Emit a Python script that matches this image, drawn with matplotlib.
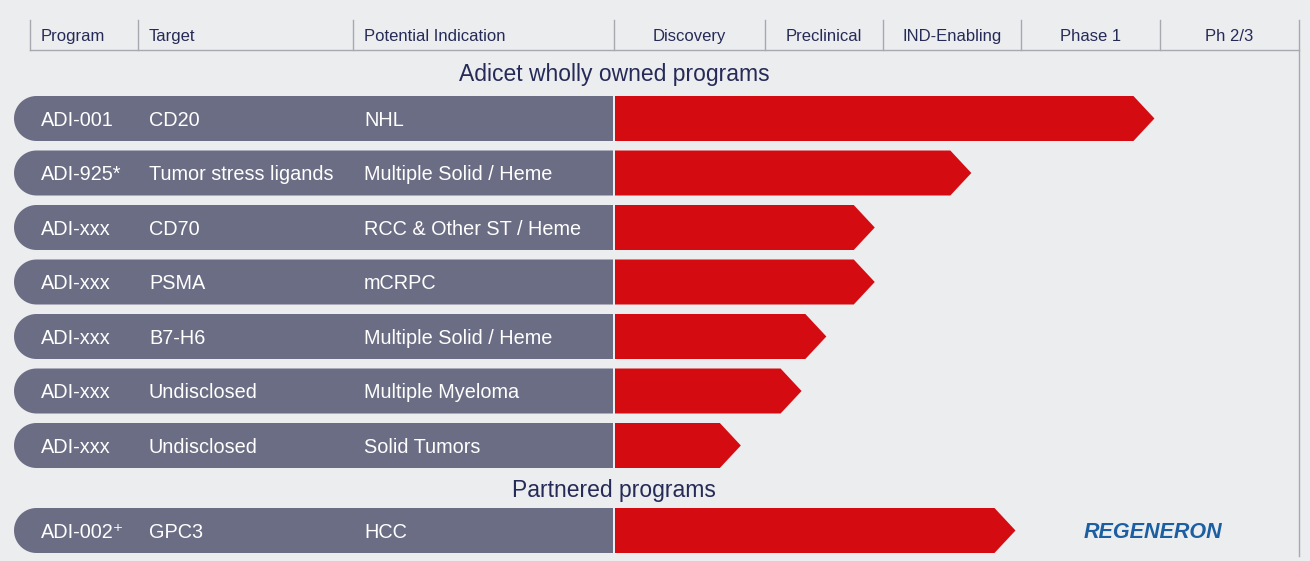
import numpy as np
import matplotlib.pyplot as plt
from matplotlib.patches import Polygon

plt.rcParams['font.family'] = ['Liberation Sans', 'DejaVu Sans']

# pipeline data
programs = ['ADI-001', 'ADI-925*', 'ADI-xxx', 'ADI-xxx', 'ADI-xxx', 'ADI-xxx', 'ADI-xxx']
targets = ['CD20', 'Tumor stress ligands', 'CD70', 'PSMA', 'B7-H6', 'Undisclosed', 'Undisclosed']
indications = ['NHL', 'Multiple Solid / Heme', 'RCC & Other ST / Heme', 'mCRPC',
               'Multiple Solid / Heme', 'Multiple Myeloma', 'Solid Tumors']
progress = [3.96, 2.64, 1.93, 1.93, 1.52, 1.31, 0.84]  # in stage units

partner_programs = ['ADI-002\u207a']
partner_targets = ['GPC3']
partner_indications = ['HCC']
partner_progress = [2.96]
partner_names = ['REGENERON']

stages = ['Discovery', 'Preclinical', 'IND-Enabling', 'Phase 1', 'Ph 2/3']
columns = ['Program', 'Target', 'Potential Indication']

# colours
bg = '#ecedef'
navy = '#262a57'
slate = '#6b6d84'
red = '#d40c12'
line_c = '#a8a8b0'

# layout (pixels)
stage_edges = [614, 765, 883, 1021, 1160, 1299]
col_x = [30, 138, 353]
bar_left, bar_right = 14, 613
row_h = 45
head = 21

fig = plt.figure(figsize=(13.1, 5.61), dpi=100)
fig.patch.set_facecolor(bg)
ax = fig.add_axes([0, 0, 1, 1])
ax.set_xlim(0, 1310)
ax.set_ylim(561, 0)
ax.axis('off')
ax.set_facecolor(bg)

# header
for x in col_x + stage_edges[:-1]:
    ax.plot([x, x], [20, 50], color=line_c, lw=1)
ax.plot([stage_edges[-1], stage_edges[-1]], [20, 556], color=line_c, lw=1)
ax.plot([col_x[0], stage_edges[-1]], [50, 50], color=line_c, lw=1)
for x, c in zip(col_x, columns):
    ax.text(x + 11, 36.5, c, color=navy, fontsize=12, va='center', ha='left')
for i, s in enumerate(stages):
    ax.text((stage_edges[i] + stage_edges[i + 1]) / 2, 36.5, s, color=navy,
            fontsize=12, va='center', ha='center')


def draw_row(yc, prog, target, ind, pct):
    top, bot = yc - row_h / 2, yc + row_h / 2
    r = row_h / 2
    # rounded left end
    t = np.linspace(np.pi / 2, 3 * np.pi / 2, 40)
    cx = bar_left + r
    arc = np.column_stack([cx + r * np.cos(t), yc - r * np.sin(t)])
    verts = np.vstack([[bar_right, top], arc, [bar_right, bot], [bar_right, top]])
    ax.add_patch(Polygon(verts, closed=True, facecolor=slate, edgecolor='none'))
    # progress arrow
    tip = np.interp(pct, range(len(stage_edges)), stage_edges)
    ax.add_patch(Polygon([[615, top], [tip - head, top], [tip, yc],
                          [tip - head, bot], [615, bot]],
                         closed=True, facecolor=red, edgecolor='none'))
    ax.text(41, yc + 1.5, prog, color='white', fontsize=14.3, va='center')
    ax.text(149, yc + 1.5, target, color='white', fontsize=14.3, va='center')
    ax.text(364, yc + 1.5, ind, color='white', fontsize=14.3, va='center')


ax.text(614, 74.5, 'Adicet wholly owned programs', color=navy, fontsize=16.5,
        ha='center', va='center')
for i in range(len(programs)):
    draw_row(118.5 + i * 54.5, programs[i], targets[i], indications[i], progress[i])

ax.text(614, 490.5, 'Partnered programs', color=navy, fontsize=16.5,
        ha='center', va='center')
for i in range(len(partner_programs)):
    yc = 530.5 + i * 54.5
    draw_row(yc, partner_programs[i], partner_targets[i], partner_indications[i],
             partner_progress[i])
    ax.text(1153, yc + 2, partner_names[i], color='#1b5fa2', fontsize=15.5,
            fontweight='bold', fontstyle='italic', ha='center', va='center')

fig.savefig('out.png', dpi=100, facecolor=bg)
